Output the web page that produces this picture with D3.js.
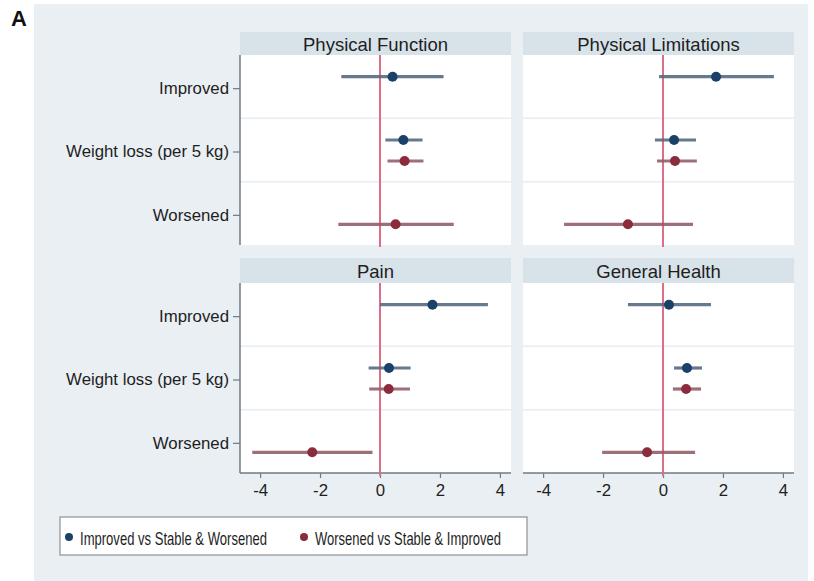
<!DOCTYPE html>
<html>
<head>
<meta charset="utf-8">
<script src="https://cdn.jsdelivr.net/npm/d3@7"></script>
<style>
  html, body { margin: 0; padding: 0; background: #ffffff; }
  svg { display: block; font-family: "Liberation Sans", Arial, Helvetica, sans-serif; }
</style>
</head>
<body>
<svg id="chart" width="814" height="581"></svg>
<script>
// Outcome panels and the rows shown in each panel
const panels = ["Physical Function", "Physical Limitations", "Pain", "General Health"];
const categories = ["Improved", "Weight loss (per 5 kg)", "Worsened"];
const xTicks = [-4, -2, 0, 2, 4];
const seriesNames = ["Improved vs Stable & Worsened", "Worsened vs Stable & Improved"];

// Improved vs Stable & Worsened (one value per panel)
const blueImprovedEst = [0.42, 1.77, 1.75, 0.20];
const blueImprovedLo  = [-1.29, -0.13, 0.00, -1.17];
const blueImprovedHi  = [2.12, 3.70, 3.60, 1.60];
const blueWeightEst   = [0.78, 0.37, 0.30, 0.80];
const blueWeightLo    = [0.18, -0.27, -0.38, 0.37];
const blueWeightHi    = [1.42, 1.10, 1.02, 1.30];

// Worsened vs Stable & Improved (one value per panel)
const redWeightEst    = [0.82, 0.40, 0.29, 0.77];
const redWeightLo     = [0.25, -0.20, -0.36, 0.33];
const redWeightHi     = [1.45, 1.13, 1.00, 1.27];
const redWorsenedEst  = [0.52, -1.17, -2.26, -0.53];
const redWorsenedLo   = [-1.39, -3.30, -4.26, -2.03];
const redWorsenedHi   = [2.46, 1.00, -0.25, 1.07];

const colors = {
  bg: "#e9eff3",
  strip: "#d7e2e9",
  grid: "#e8edf1",
  axis: "#6f7a84",
  ref: "#dc6f88",
  blueDot: "#1c4169",
  blueCI: "#576b80",
  redDot: "#8b2c3d",
  redCI: "#93606a",
  text: "#1e1e1e"
};

// Build rows per panel from the arrays above
function rowsFor(p) {
  return [
    { series: 0, cat: categories[0], est: blueImprovedEst[p], lo: blueImprovedLo[p], hi: blueImprovedHi[p] },
    { series: 0, cat: categories[1], est: blueWeightEst[p],   lo: blueWeightLo[p],   hi: blueWeightHi[p] },
    { series: 1, cat: categories[1], est: redWeightEst[p],    lo: redWeightLo[p],    hi: redWeightHi[p] },
    { series: 1, cat: categories[2], est: redWorsenedEst[p],  lo: redWorsenedLo[p],  hi: redWorsenedHi[p] }
  ];
}

const svg = d3.select("#chart");

// graph region background
svg.append("rect").attr("x", 34).attr("y", 4).attr("width", 774).attr("height", 577)
  .attr("fill", colors.bg);

// panel label
svg.append("text").attr("x", 11).attr("y", 26).text("A")
  .attr("font-size", 22).attr("font-weight", "bold").attr("fill", "#111");

const colX = [240, 523];
const stripTop = [32, 258];
const plotTop = [55, 283];
const plotW = 271, plotH = 190;

const x = d3.scaleLinear().domain([-4.67, 4.37]).range([0, plotW]);
const y = d3.scaleBand().domain(categories).range([0, plotH]).paddingInner(0).paddingOuter(0);
const seriesOffset = [-10, 11];

panels.forEach((name, i) => {
  const r = Math.floor(i / 2), c = i % 2;
  const x0 = colX[c];
  // title strip
  svg.append("rect").attr("x", x0).attr("y", stripTop[r]).attr("width", plotW)
    .attr("height", plotTop[r] - stripTop[r]).attr("fill", colors.strip);
  svg.append("text").attr("x", x0 + plotW / 2).attr("y", (stripTop[r] + plotTop[r]) / 2 + 1)
    .attr("text-anchor", "middle").attr("dominant-baseline", "central")
    .attr("font-size", 18.5).attr("fill", colors.text).text(name);

  const g = svg.append("g").attr("transform", `translate(${x0},${plotTop[r]})`);
  g.append("rect").attr("width", plotW).attr("height", plotH).attr("fill", "#ffffff");

  // horizontal separators between rows
  g.selectAll("line.grid").data(categories.slice(1)).join("line")
    .attr("x1", 0).attr("x2", plotW)
    .attr("y1", d => y(d)).attr("y2", d => y(d))
    .attr("stroke", colors.grid).attr("stroke-width", 1.5);

  // left axis with category labels (left column only)
  if (c === 0) {
    const ya = d3.axisLeft(y).tickSize(7).tickPadding(4);
    const ag = g.append("g").call(ya);
    ag.select(".domain").remove();
    ag.selectAll(".tick").attr("transform", d => `translate(0,${y(d) + y.bandwidth() / 2 + 2})`);
    ag.selectAll(".tick line").attr("stroke", colors.axis).attr("stroke-width", 1.2);
    ag.selectAll(".tick text").attr("font-size", 16.8).attr("fill", colors.text)
      .attr("font-family", "'Liberation Sans', Arial, sans-serif");
    g.append("line").attr("x1", 0).attr("x2", 0).attr("y1", 0).attr("y2", plotH)
      .attr("stroke", colors.axis).attr("stroke-width", 1.5);
  }

  // bottom axis (bottom row only)
  if (r === 1) {
    const xa = d3.axisBottom(x).tickValues(xTicks).tickSize(5).tickPadding(6)
      .tickFormat(d3.format("d"));
    const xg = g.append("g").attr("transform", `translate(0,${plotH})`).call(xa);
    xg.select(".domain").attr("stroke", colors.axis).attr("stroke-width", 1.5)
      .attr("d", `M0,0H${plotW}`);
    xg.selectAll(".tick line").attr("stroke", colors.axis).attr("stroke-width", 1.2);
    xg.selectAll(".tick text").attr("font-size", 16.8).attr("fill", colors.text)
      .attr("font-family", "'Liberation Sans', Arial, sans-serif")
      .text(d => d < 0 ? "-" + Math.abs(d) : d);
  }

  // reference line at zero
  g.append("line").attr("x1", x(0)).attr("x2", x(0))
    .attr("y1", 0).attr("y2", r === 0 ? plotH + 2 : plotH + 3)
    .attr("stroke", colors.ref).attr("stroke-width", 2);

  const rows = rowsFor(i);
  const cy = d => y(d.cat) + y.bandwidth() / 2 + seriesOffset[d.series];

  g.selectAll("line.ci").data(rows).join("line")
    .attr("x1", d => x(d.lo)).attr("x2", d => x(d.hi))
    .attr("y1", cy).attr("y2", cy)
    .attr("stroke", d => d.series === 0 ? colors.blueCI : colors.redCI)
    .attr("stroke-width", 3.2).attr("opacity", 0.9);

  g.selectAll("circle.pt").data(rows).join("circle")
    .attr("cx", d => x(d.est)).attr("cy", cy).attr("r", 5)
    .attr("fill", d => d.series === 0 ? colors.blueDot : colors.redDot);
});

// legend: tall, narrow lettering squeezed horizontally to the key width
const lg = svg.append("g");
lg.append("rect").attr("x", 60).attr("y", 517).attr("width", 467).attr("height", 38)
  .attr("fill", "#ffffff").attr("stroke", "#8c9196").attr("stroke-width", 1.2);
const legendX = [69, 304];
const legendW = [187, 186];
seriesNames.forEach((s, k) => {
  lg.append("circle").attr("cx", legendX[k]).attr("cy", 537).attr("r", 4)
    .attr("fill", k === 0 ? colors.blueDot : colors.redDot);
  const tg = lg.append("g");
  const t = tg.append("text").attr("x", 0).attr("y", 0)
    .attr("dominant-baseline", "central").attr("font-size", 19).attr("fill", colors.text)
    .text(s);
  const natural = t.node().getComputedTextLength();
  tg.attr("transform", `translate(${legendX[k] + 11},538) scale(${legendW[k] / natural},1)`);
});
</script>
</body>
</html>
